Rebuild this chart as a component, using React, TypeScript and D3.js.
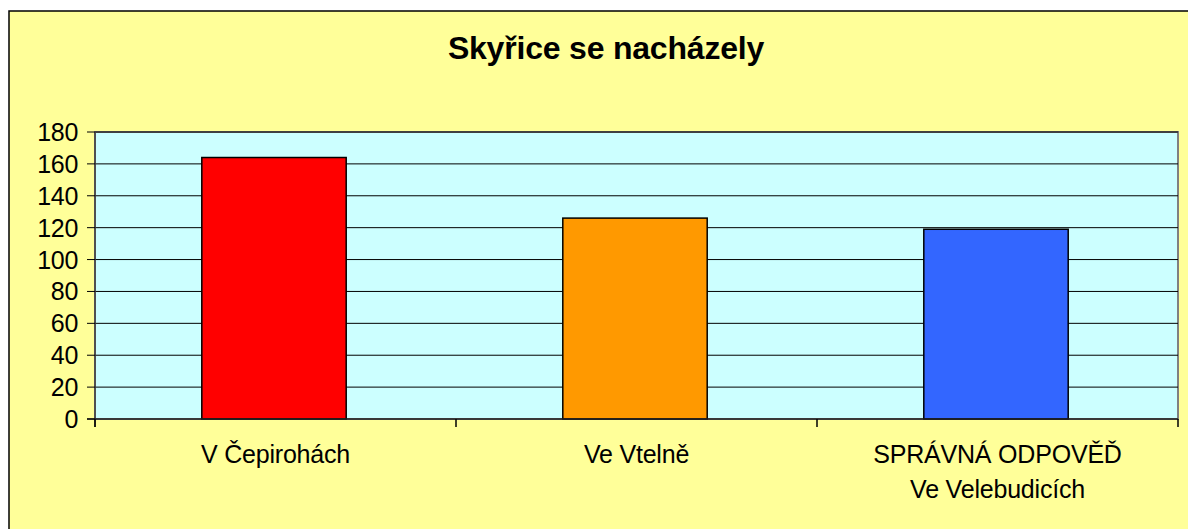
import React from "react";
import * as d3 from "d3";

const categories: string[][] = [["V Čepirohách"], ["Ve Vtelně"], ["SPRÁVNÁ ODPOVĚĎ", "Ve Velebudicích"]];
const values: number[] = [164, 126, 119];
const colors: string[] = ["#FF0000", "#FF9900", "#3366FF"];
const yTicks: number[] = [0, 20, 40, 60, 80, 100, 120, 140, 160, 180];
const title = "Skyřice se nacházely";

export default function App() {
  const W = 1188, H = 529;
  const left = 95, right = 1178, top = 132, bottom = 419;
  const x = d3.scaleBand<number>().domain(d3.range(values.length)).range([left, right]).paddingInner(0.6).paddingOuter(0.3);
  const y = d3.scaleLinear().domain([0, 180]).range([bottom, top]);
  const bandStep = (right - left) / values.length;
  const font = "Arial, 'Liberation Sans', sans-serif";
  return (
    <svg width={W} height={H} style={{ position: "absolute", left: 0, top: 0 }}>
      <rect x={9} y={11} width={W + 10} height={H + 10} fill="#FFFF99" stroke="#000" strokeWidth={1.5} />
      <text x={606} y={59} textAnchor="middle" fontFamily={font} fontWeight="bold" fontSize={32} letterSpacing={-0.2} fill="#000">{title}</text>
      <rect x={left} y={top} width={right - left} height={bottom - top} fill="#CCFFFF" stroke="#808080" strokeWidth={2} />
      {yTicks.filter(t => t > 0).map(t => (
        <line key={t} x1={left} x2={right} y1={y(t)} y2={y(t)} stroke="#000" strokeWidth={1} />
      ))}
      {values.map((v, i) => (
        <rect key={i} x={x(i)! - 1.5} y={y(v)} width={x.bandwidth()} height={bottom - y(v)} fill={colors[i]} stroke="#000" strokeWidth={1.5} />
      ))}
      <line x1={left} x2={left} y1={top} y2={bottom + 8} stroke="#404040" strokeWidth={1.5} />
      <line x1={left - 8} x2={right} y1={bottom} y2={bottom} stroke="#202020" strokeWidth={1.5} />
      {yTicks.map(t => (
        <g key={t}>
          <line x1={left - 8} x2={left} y1={y(t)} y2={y(t)} stroke="#000" strokeWidth={1} />
          <text x={78} y={y(t)} dy="0.36em" textAnchor="end" fontFamily={font} fontSize={25} letterSpacing={-0.3} fill="#000">{t}</text>
        </g>
      ))}
      {d3.range(values.length + 1).map(i => (
        <line key={i} x1={left + i * bandStep} x2={left + i * bandStep} y1={bottom} y2={bottom + 8} stroke="#000" strokeWidth={1.5} />
      ))}
      {categories.map((lines, i) => (
        <text key={i} textAnchor="middle" fontFamily={font} fontSize={25} letterSpacing={-0.2} fill="#000">
          {lines.map((l, j) => (
            <tspan key={j} x={left + (i + 0.5) * bandStep} y={463 + j * 35}>{l}</tspan>
          ))}
        </text>
      ))}
    </svg>
  );
}
